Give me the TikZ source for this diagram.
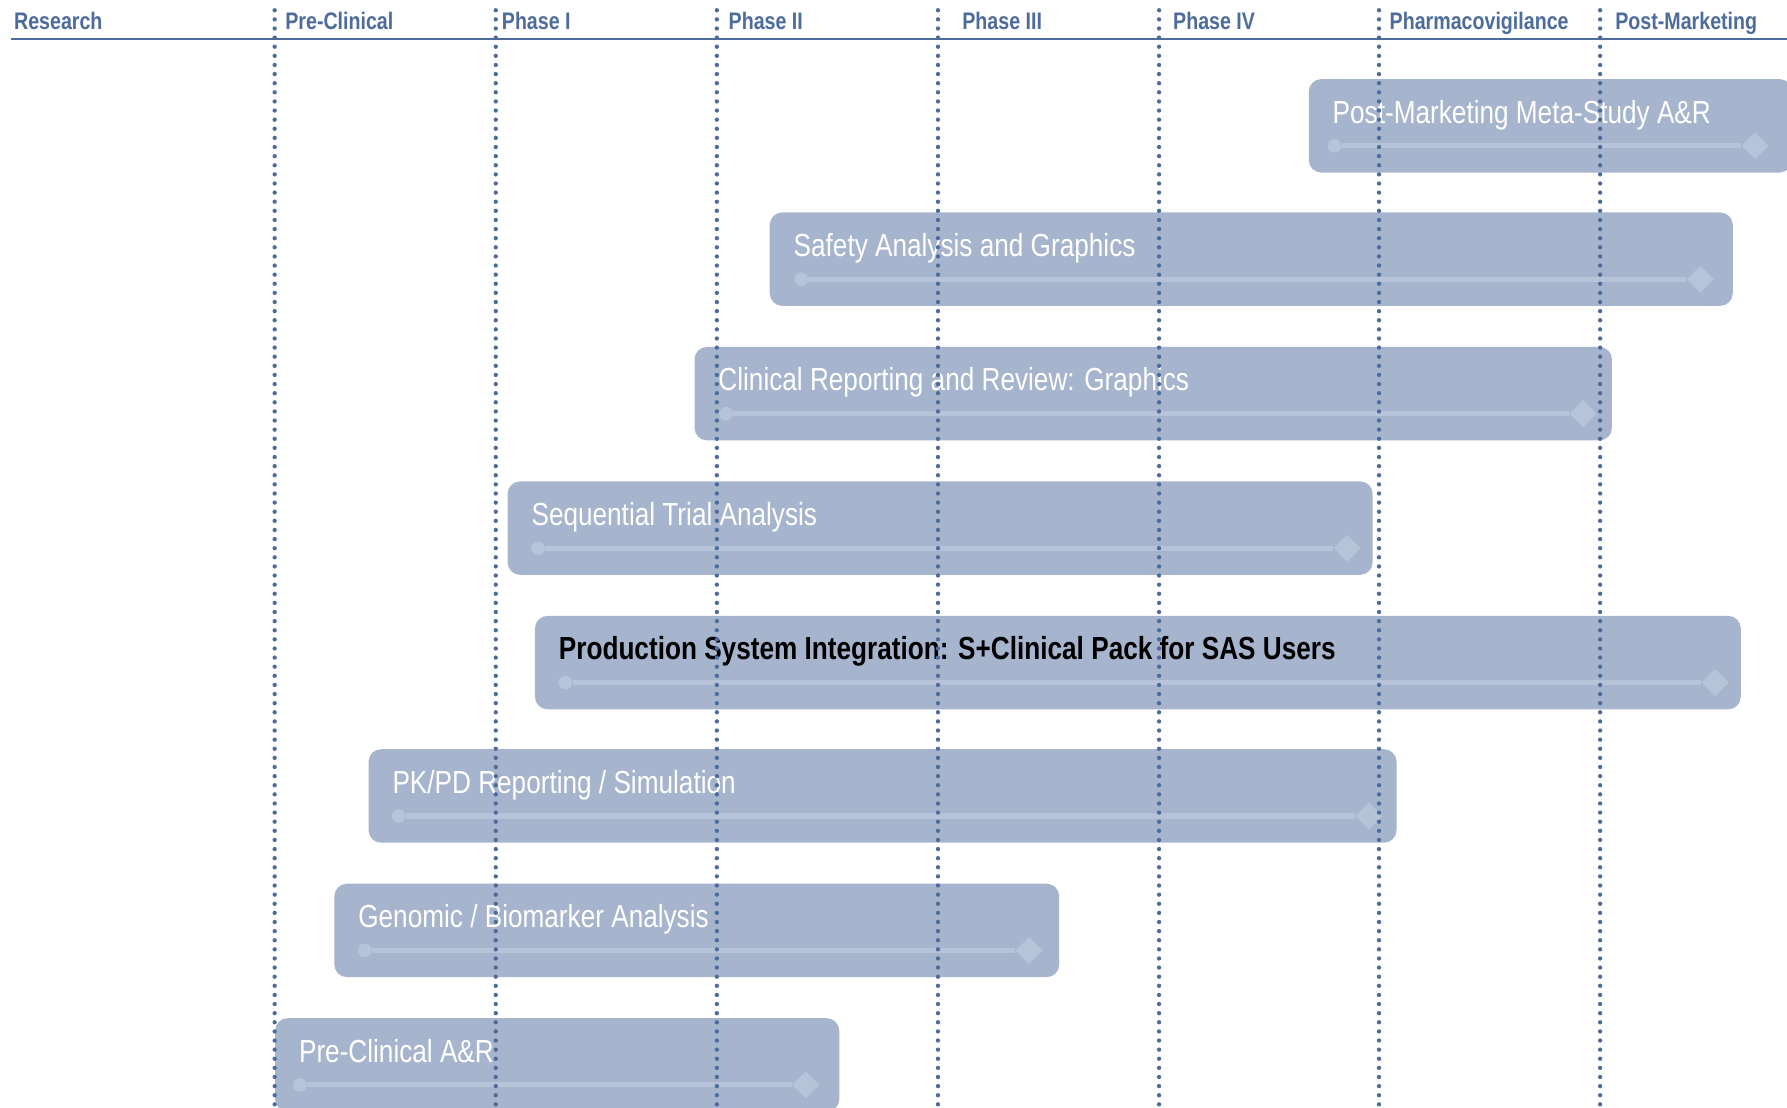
\documentclass[tikz,border=0pt]{standalone}
\usepackage{fontspec}
\setmainfont{Liberation Sans}[FakeStretch=0.82]
\usetikzlibrary{shapes.geometric}
\definecolor{hdr}{HTML}{4D6C9C}
\definecolor{barfill}{HTML}{A6B5CD}
\definecolor{track}{HTML}{B6C3D9}
\tikzset{
 barbox/.style={fill=barfill, draw=none, rounded corners=5.5pt, anchor=north west, inner sep=0pt, minimum height=41pt},
 bartext/.style={anchor=base west, inner sep=0pt, text=white, font=\fontsize{14}{16}\selectfont},
 boldtext/.style={anchor=base west, inner sep=0pt, text=black, font=\bfseries\fontsize{14}{16}\selectfont},
 startdot/.style={circle, fill=track, minimum size=6pt, inner sep=0pt},
 enddiamond/.style={diamond, fill=track, minimum size=12pt, inner sep=0pt},
 trackline/.style={draw=track, line width=2.2pt},
 phaseline/.style={draw=hdr, line width=1.9pt, dash pattern=on 0pt off 4pt, line cap=round},
 phaselabel/.style={anchor=base west, inner sep=0pt, text=hdr, font=\bfseries\fontsize{10.5}{12}\selectfont},
 headline/.style={draw=hdr, line width=1pt},
}
\begin{document}
\begin{tikzpicture}[x=0.5pt, y=-0.5pt]
\useasboundingbox (0,0) rectangle (1568,972);
\clip (0,0) rectangle (1568,972);
\fill[white] (0,0) rectangle (1568,972);
% bars
\foreach \n/\l/\r/\t/\s/\e/\st/\txt in {
 1/1148/1572/69/1171/1540/bartext/{Post-Marketing Meta-Study A\&R},
 2/675/1520/186/703/1492/bartext/{Safety Analysis and Graphics},
 3/609/1414/304/637/1389/bartext/{Clinical Reporting and Review: Graphics},
 4/445/1204/422/472/1182/bartext/{Sequential Trial Analysis},
 5/469/1527/540/496/1505/boldtext/{Production System Integration: S+Clinical Pack for SAS Users},
 6/323/1225/657/350/1201/bartext/{PK/PD Reporting / Simulation},
 7/293/929/775/320/903/bartext/{Genomic / Biomarker Analysis},
 8/241/736/893/263/707/bartext/{Pre-Clinical A\&R}}{
 \node[barbox, minimum width={(\r-\l)*0.5pt}] (bar\n) at (\l,\t) {};
 \node[startdot] (s\n) at (\s,\t+59) {};
 \node[enddiamond] (e\n) at (\e,\t+59) {};
 \draw[trackline] (s\n) -- (e\n);
 \node[\st] (lbl\n) at (\l+21,\t+39) {\txt};
}
% header
\coordinate (hl) at (10,34);
\coordinate (hr) at (1568,34);
\draw[headline] (hl) -- (hr);
\foreach \n/\x/\txt in {0/12/Research, 1/250/Pre-Clinical, 2/440/Phase I, 3/639/Phase II, 4/844/Phase III, 5/1029/Phase IV, 6/1219/Pharmacovigilance, 7/1417/Post-Marketing}{
 \node[phaselabel] (ph\n) at (\x,26) {\txt};
}
\foreach \n/\x in {1/241, 2/435, 3/629, 4/823, 5/1017, 6/1210, 7/1404}{
 \coordinate (pt\n) at (\x,9);
 \coordinate (pb\n) at (\x,975);
 \draw[phaseline] (pt\n) -- (pb\n);
}
\end{tikzpicture}
\end{document}
